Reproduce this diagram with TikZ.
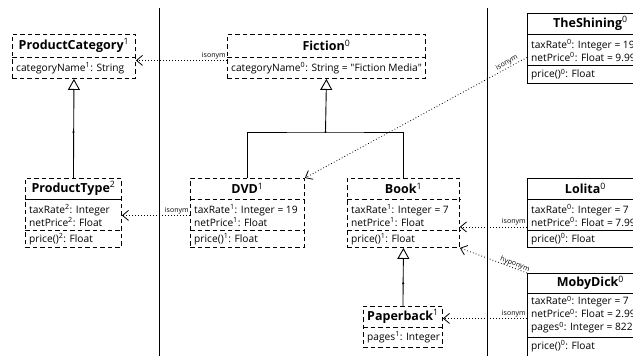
\documentclass[tikz,border=0pt]{standalone}
\usepackage{fontspec}
\setmainfont{Open Sans}[Ligatures=TeXOff]
\usetikzlibrary{positioning,calc,arrows.meta}

\tikzset{
  dbox/.style={draw,line width=0.9pt,dash pattern=on 4.5pt off 3pt,anchor=north west,inner sep=0pt},
  sbox/.style={draw,line width=0.9pt,anchor=north west,inner sep=0pt},
  dsep/.style={line width=0.9pt,dash pattern=on 4.5pt off 3pt},
  ssep/.style={line width=0.9pt},
  ctitle/.style={font=\fontsize{12.5}{14}\selectfont,inner sep=0pt},
  cattr/.style={font=\fontsize{10.2}{13}\selectfont,align=left,anchor=west,inner sep=0pt},
  gen/.style={line width=0.9pt,-{Triangle[open,length=11pt,width=12pt]}},
  rel/.style={line width=0.8pt,dash pattern=on 0.8pt off 2.2pt,-{Straight Barb[length=6pt,width=10pt]}},
  rlabel/.style={font=\fontsize{7}{8}\selectfont,inner sep=1pt},
  jdot/.style={circle,fill,inner sep=0pt,minimum size=2.4pt},
}

\begin{document}
\begin{tikzpicture}[x=1pt,y=-1pt]
	\useasboundingbox (0,0) rectangle (633,356);
	\clip (0,0) rectangle (633,356);
	
	% level separators
	\draw[line width=1pt] (159,8) -- (159,356);
	\draw[line width=1pt] (487,8) -- (487,356);
	
	% level 2 / 1 classes
	\node[dbox,minimum width=123pt,minimum height=44pt] (pcat) at (12,34) {};
	\draw[dsep] ($(pcat.north west)+(0,23)$) -- ($(pcat.north east)+(0,23)$);
	\node[ctitle] at ($(pcat.north)+(0,11.5)$) {\textbf{ProductCategory}\textsuperscript{1}};
	\node[cattr] at ($(pcat.north west)+(4,34)$) {categoryName\textsuperscript{1}: String};
	
	\node[dbox,minimum width=96pt,minimum height=69pt] (ptype) at (25,178) {};
	\draw[ssep] ($(ptype.north west)+(0,21)$) -- ($(ptype.north east)+(0,21)$);
	\draw[dsep] ($(ptype.north west)+(0,52)$) -- ($(ptype.north east)+(0,52)$);
	\node[ctitle] at ($(ptype.north)+(0,10.5)$) {\textbf{ProductType}\textsuperscript{2}};
	\node[cattr] at ($(ptype.north west)+(4,37.5)$) {taxRate\textsuperscript{2}: Integer\\netPrice\textsuperscript{2}: Float};
	\node[cattr] at ($(ptype.north west)+(4,61)$) {price()\textsuperscript{2}: Float};
	
	% level 1 / 0 classes
	\node[dbox,minimum width=198pt,minimum height=44pt] (fict) at (227,34) {};
	\draw[dsep] ($(fict.north west)+(0,23)$) -- ($(fict.north east)+(0,23)$);
	\node[ctitle] at ($(fict.north)+(0,11.5)$) {\textbf{Fiction}\textsuperscript{0}};
	\node[cattr] at ($(fict.north west)+(4,34)$) {categoryName\textsuperscript{0}: String = "Fiction Media"};
	
	\node[dbox,minimum width=114pt,minimum height=69pt] (dvd) at (190,178) {};
	\draw[dsep] ($(dvd.north west)+(0,21)$) -- ($(dvd.north east)+(0,21)$);
	\draw[dsep] ($(dvd.north west)+(0,52)$) -- ($(dvd.north east)+(0,52)$);
	\node[ctitle] at ($(dvd.north)+(0,10.5)$) {\textbf{DVD}\textsuperscript{1}};
	\node[cattr] at ($(dvd.north west)+(4,37.5)$) {taxRate\textsuperscript{1}: Integer = 19\\netPrice\textsuperscript{1}: Float};
	\node[cattr] at ($(dvd.north west)+(4,61)$) {price()\textsuperscript{1}: Float};
	
	\node[dbox,minimum width=112pt,minimum height=69pt] (bk) at (347,178) {};
	\draw[dsep] ($(bk.north west)+(0,21)$) -- ($(bk.north east)+(0,21)$);
	\draw[dsep] ($(bk.north west)+(0,52)$) -- ($(bk.north east)+(0,52)$);
	\node[ctitle] at ($(bk.north)+(0,10.5)$) {\textbf{Book}\textsuperscript{1}};
	\node[cattr] at ($(bk.north west)+(4,37.5)$) {taxRate\textsuperscript{1}: Integer = 7\\netPrice\textsuperscript{1}: Float};
	\node[cattr] at ($(bk.north west)+(4,61)$) {price()\textsuperscript{1}: Float};
	
	\node[dbox,minimum width=79pt,minimum height=41pt] (pback) at (363,306) {};
	\draw[dsep] ($(pback.north west)+(0,21)$) -- ($(pback.north east)+(0,21)$);
	\node[ctitle] at ($(pback.north)+(0,10.5)$) {\textbf{Paperback}\textsuperscript{1}};
	\node[cattr] at ($(pback.north west)+(4,31)$) {pages\textsuperscript{1}: Integer};
	
	% level 0 objects
	\node[sbox,minimum width=126pt,minimum height=70pt] (shin) at (527,13) {};
	\draw[ssep] ($(shin.north west)+(0,21)$) -- ($(shin.north east)+(0,21)$);
	\draw[ssep] ($(shin.north west)+(0,52)$) -- ($(shin.north east)+(0,52)$);
	\node[ctitle] at ($(shin.north)+(0,10.5)$) {\textbf{TheShining}\textsuperscript{0}};
	\node[cattr] at ($(shin.north west)+(4,37.5)$) {taxRate\textsuperscript{0}: Integer = 19\\netPrice\textsuperscript{0}: Float = 9.99};
	\node[cattr] at ($(shin.north west)+(4,61.5)$) {price()\textsuperscript{0}: Float};
	
	\node[sbox,minimum width=116pt,minimum height=69pt] (lol) at (527,178) {};
	\draw[ssep] ($(lol.north west)+(0,21)$) -- ($(lol.north east)+(0,21)$);
	\draw[ssep] ($(lol.north west)+(0,52)$) -- ($(lol.north east)+(0,52)$);
	\node[ctitle] at ($(lol.north)+(0,10.5)$) {\textbf{Lolita}\textsuperscript{0}};
	\node[cattr] at ($(lol.north west)+(4,37.5)$) {taxRate\textsuperscript{0}: Integer = 7\\netPrice\textsuperscript{0}: Float = 7.99};
	\node[cattr] at ($(lol.north west)+(4,61)$) {price()\textsuperscript{0}: Float};
	
	\node[sbox,minimum width=126pt,minimum height=83pt] (moby) at (527,273) {};
	\draw[ssep] ($(moby.north west)+(0,20)$) -- ($(moby.north east)+(0,20)$);
	\draw[ssep] ($(moby.north west)+(0,64)$) -- ($(moby.north east)+(0,64)$);
	\node[ctitle] at ($(moby.north)+(0,10)$) {\textbf{MobyDick}\textsuperscript{0}};
	\node[cattr] at ($(moby.north west)+(4,41.5)$) {taxRate\textsuperscript{0}: Integer = 7\\netPrice\textsuperscript{0}: Float = 2.99\\pages\textsuperscript{0}: Integer = 822};
	\node[cattr] at ($(moby.north west)+(4,73)$) {price()\textsuperscript{0}: Float};
	
	% generalizations
	\coordinate (fj) at (325.5,132);
	\draw[gen] (ptype.north) -- (pcat.south);
	\node[jdot] at (ptype.north |- fj) {};
	\draw[line width=0.9pt] (dvd.north) |- (fj) -| (bk.north);
	\draw[gen] (fj) -- (fict.south);
	\node[jdot] at (fj) {};
	\draw[gen] (pback.north) -- (bk.south);
	\node[jdot] at ($(pback.north)!0.39!(bk.south)$) {};
	
	% isonym / hyponym links
	\draw[rel] ($(fict.west)+(0,4)$) -- node[rlabel,pos=0,anchor=south east] {isonym} ($(pcat.east)+(0,4)$);
	\draw[rel] ($(dvd.west)+(0,2.5)$) -- node[rlabel,pos=0,anchor=south east] {isonym} ($(ptype.east)+(0,2.5)$);
	\draw[rel] ($(shin.west)+(0,9)$) -- node[rlabel,pos=0.08,sloped,above] {isonym} (dvd.north east);
	\draw[rel] ($(lol.west)+(0,14)$) -- node[rlabel,pos=0,anchor=south east] {isonym} ($(bk.east)+(0,14)$);
	\draw[rel] (moby.north west) -- node[rlabel,pos=0.2,sloped,above=-1pt] {hyponym} (bk.south east);
	\draw[rel] ($(moby.west)+(0,3.5)$) -- node[rlabel,pos=0,anchor=south east] {isonym} ($(pback.east)+(0,-8.5)$);
\end{tikzpicture}
\end{document}
